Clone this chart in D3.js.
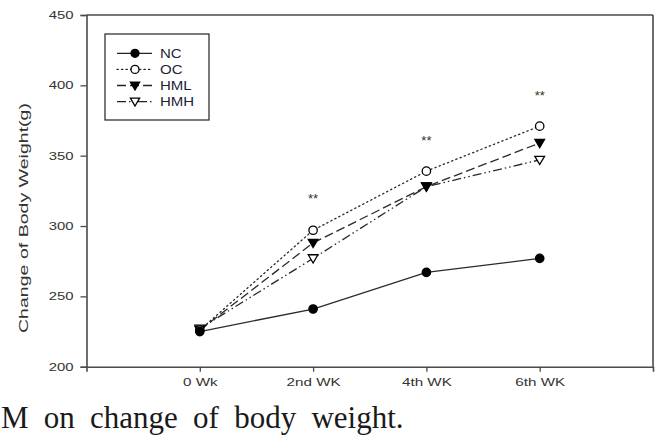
<!DOCTYPE html>
<html><head><meta charset="utf-8">
<script src="https://cdn.jsdelivr.net/npm/d3@7"></script>
<style>body{margin:0;background:#fff}svg{display:block}</style>
</head><body>
<svg id="c" width="661" height="437"></svg>
<script>
const categories = ["0 Wk", "2nd WK", "4th WK", "6th WK"];
const seriesNames = ["NC", "OC", "HML", "HMH"];
const NC  = [225, 241, 267, 277];
const OC  = [226, 297, 339, 371];
const HML = [226, 288, 328, 359];
const HMH = [227, 277, 328, 347];
const starValues = [null, 320, 361, 393];
const yTicks = [200, 250, 300, 350, 400, 450];
const yLabel = "Change of Body Weight(g)";
const caption = "M on change of body weight.";

const seriesValues = [NC, OC, HML, HMH];
const styles = {
  NC:  {dash: null, marker: "circle", fill: "#000"},
  OC:  {dash: "1.3,3.2", marker: "circle", fill: "#fff"},
  HML: {dash: "9,4", marker: "tri", fill: "#000"},
  HMH: {dash: "9,3,1.5,3,1.5,3", marker: "tri", fill: "#fff"}
};

const SANS = "'Liberation Sans', Arial, sans-serif";
const svg = d3.select("#c");
const x = d3.scaleLinear().domain([-1, 4]).range([86.5, 653]);
const y = d3.scaleLinear().domain([200, 450]).range([366.7, 15]);
const axisColor = "#4a4a4a";
const textColor = "#333";

function stretch(sel, f) {
  sel.each(function() {
    const w = this.getComputedTextLength();
    d3.select(this).attr("textLength", w * f).attr("lengthAdjust", "spacingAndGlyphs");
  });
}

// frame
svg.append("line").attr("x1", x(-1)).attr("x2", x(4)).attr("y1", y(450)).attr("y2", y(450)).attr("stroke", axisColor).attr("stroke-width", 1.6);
svg.append("line").attr("x1", x(4)).attr("x2", x(4)).attr("y1", y(450)).attr("y2", y(200)).attr("stroke", axisColor).attr("stroke-width", 1.6);

const yAxis = d3.axisLeft(y).tickValues(yTicks).tickSize(6).tickPadding(7).tickFormat(d3.format("d"));
const ya = svg.append("g").attr("transform", `translate(${x(-1)},0)`).call(yAxis);
ya.select(".domain").attr("stroke", axisColor).attr("stroke-width", 1.6);
ya.selectAll(".tick line").attr("stroke", axisColor).attr("stroke-width", 1.3);
ya.selectAll(".tick text").attr("font-family", SANS).attr("font-size", 11).attr("fill", textColor);
stretch(ya.selectAll(".tick text"), 1.35);

const xAxis = d3.axisBottom(x).tickValues([0,1,2,3]).tickSize(5).tickPadding(7).tickFormat(i => categories[i]);
const xa = svg.append("g").attr("transform", `translate(0,${y(200)})`).call(xAxis);
xa.select(".domain").attr("stroke", axisColor).attr("stroke-width", 1.6);
xa.selectAll(".tick line").attr("stroke", axisColor).attr("stroke-width", 1.3);
xa.selectAll(".tick text").attr("font-family", SANS).attr("font-size", 11).attr("fill", textColor);
stretch(xa.selectAll(".tick text"), 1.38);

// y label
svg.append("text").attr("transform", "translate(28,218) rotate(-90)").attr("text-anchor", "middle")
  .attr("font-family", SANS).attr("font-size", 13.5).attr("fill", textColor)
  .attr("textLength", 230).attr("lengthAdjust", "spacingAndGlyphs")
  .text(yLabel);

function drawMarker(sel, type, fill, cx, cy, r) {
  if (type === "circle") {
    sel.append("circle").attr("cx", cx).attr("cy", cy).attr("r", r).attr("fill", fill).attr("stroke", "#000").attr("stroke-width", 1.3);
  } else {
    const s = r * 1.15;
    sel.append("path").attr("d", `M${cx - s},${cy - s * 0.75}L${cx + s},${cy - s * 0.75}L${cx},${cy + s * 0.95}Z`)
      .attr("fill", fill).attr("stroke", "#000").attr("stroke-width", 1.3);
  }
}

const line = d3.line().x((d, i) => x(i)).y(d => y(d));
[3, 2, 1, 0].forEach(k => {
  const name = seriesNames[k], st = styles[name], vals = seriesValues[k];
  svg.append("path").datum(vals).attr("d", line).attr("fill", "none").attr("stroke", "#2a2a2a")
    .attr("stroke-width", 1.3).attr("stroke-dasharray", st.dash).attr("stroke-linecap", name === "OC" ? "round" : "butt");
});
[3, 2, 1, 0].forEach(k => {
  const name = seriesNames[k], st = styles[name], vals = seriesValues[k];
  const mg = svg.append("g");
  vals.forEach((v, i) => drawMarker(mg, st.marker, st.fill, x(i), y(v), 4.2));
});

// significance stars
const stars = svg.append("g");
starValues.forEach((v, i) => {
  if (v == null) return;
  stars.append("text").attr("x", x(i)).attr("y", y(v) + 5).attr("text-anchor", "middle")
    .attr("font-family", SANS).attr("font-size", 13).attr("fill", "#3a3325").text("**");
});

// legend
const lg = svg.append("g");
lg.append("rect").attr("x", 105).attr("y", 34).attr("width", 104).attr("height", 86).attr("fill", "#fff").attr("stroke", "#333").attr("stroke-width", 1.3);
seriesNames.forEach((name, k) => {
  const st = styles[name];
  const yy = 53.3 + k * 16.1;
  lg.append("line").attr("x1", 117).attr("x2", 152).attr("y1", yy).attr("y2", yy).attr("stroke", "#222").attr("stroke-width", 1.3)
    .attr("stroke-dasharray", st.dash).attr("stroke-linecap", name === "OC" ? "round" : "butt");
  drawMarker(lg, st.marker, st.fill, 135, yy, 4);
  const t = lg.append("text").attr("x", 160).attr("y", yy + 4.5).attr("font-family", SANS)
    .attr("font-size", 12).attr("fill", "#1e2236").text(name);
  stretch(t, 1.25);
});

// caption
svg.append("text").attr("x", 1).attr("y", 428).attr("font-family", "'Liberation Serif', 'DejaVu Serif', serif")
  .attr("font-size", 31).attr("fill", "#1a1a1a").attr("word-spacing", 7.5).text(caption);
</script>
</body></html>
